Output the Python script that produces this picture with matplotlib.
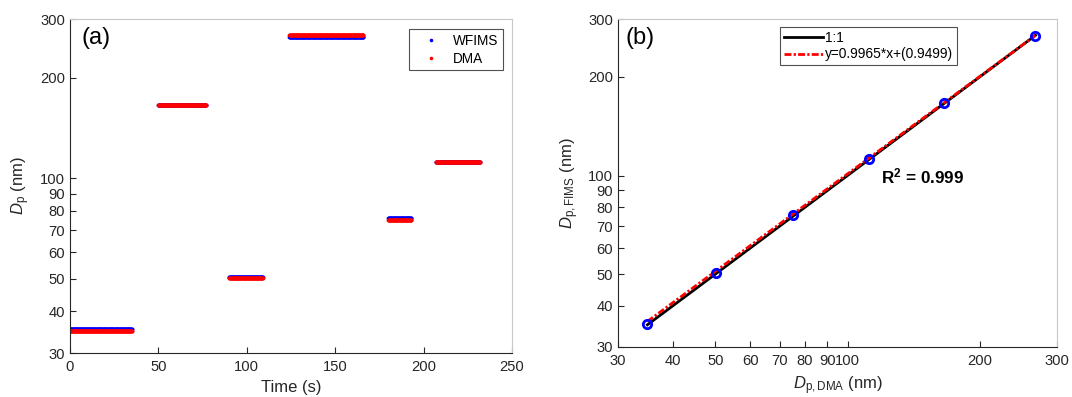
import numpy as np
import matplotlib
matplotlib.use("Agg")
import matplotlib.pyplot as plt
from matplotlib.ticker import FixedLocator, FixedFormatter, NullLocator

plt.rcParams["font.family"] = ["Liberation Sans", "DejaVu Sans"]
plt.rcParams["mathtext.fontset"] = "custom"
plt.rcParams["mathtext.rm"] = "Liberation Sans"
plt.rcParams["mathtext.it"] = "Liberation Sans:italic"
plt.rcParams["mathtext.bf"] = "Liberation Sans:bold"

# ---- data: panel (a), steps of constant size vs time
seg_start = [0, 50, 90, 124, 180, 207]
seg_end = [35, 77, 109, 166, 193, 232]
wfims_level = [35.3, 166.0, 50.6, 265.5, 76.0, 112.3]
dma_level = [35.0, 166.0, 50.2, 268.0, 75.2, 111.8]

# ---- data: panel (b), mean sizes per step
dma_mean = [35.0, 50.2, 75.0, 112.0, 166.0, 268.0]
fims_mean = [35.3, 50.5, 75.8, 112.5, 166.0, 267.5]
fit_slope = 0.9965
fit_icpt = 0.9499
r2 = 0.999

ticks = [30, 40, 50, 60, 70, 80, 90, 100, 200, 300]
tick_labels = ["30", "40", "50", "60", "70", "80", "90", "100", "200", "300"]

dark = "#262626"
light = "#c8c8c8"

fig = plt.figure(figsize=(10.72, 3.97), dpi=100)
ax1 = fig.add_axes([0.0653, 0.1108, 0.4123, 0.8413])
ax2 = fig.add_axes([0.5765, 0.1267, 0.4095, 0.8247])


def style(ax):
    ax.tick_params(direction="in", length=4, width=0.8, colors=dark,
                   labelsize=10.6, which="both", top=False, right=False)
    ax.tick_params(axis="x", pad=5)
    for s in ["left", "bottom"]:
        ax.spines[s].set_color(dark)
        ax.spines[s].set_linewidth(0.8)
    for s in ["top", "right"]:
        ax.spines[s].set_color(light)
        ax.spines[s].set_linewidth(0.8)


# ==========================
# (a)
# ==========================
for i in range(len(seg_start)):
    t = np.arange(seg_start[i], seg_end[i] + 0.01, 0.2)
    ax1.plot(t, np.full(t.size, wfims_level[i]), ".", color="#0000ff",
             markersize=3.5, label="WFIMS" if i == 0 else None)
for i in range(len(seg_start)):
    t = np.arange(seg_start[i], seg_end[i] + 0.01, 0.2)
    ax1.plot(t, np.full(t.size, dma_level[i]), ".", color="#ff0000",
             markersize=3.5, label="DMA" if i == 0 else None)

ax1.set_yscale("log")
ax1.set_xlim(0, 250)
ax1.set_ylim(30, 300)
ax1.yaxis.set_major_locator(FixedLocator(ticks))
ax1.yaxis.set_major_formatter(FixedFormatter(tick_labels))
ax1.yaxis.set_minor_locator(NullLocator())
ax1.set_xticks([0, 50, 100, 150, 200, 250])
style(ax1)
ax1.set_xlabel("Time (s)", fontsize=12, color=dark, labelpad=4)
ax1.set_ylabel(r"$D_\mathrm{p}$ (nm)", fontsize=12, color=dark, labelpad=6)
ax1.text(0.025, 0.975, "(a)", transform=ax1.transAxes, fontsize=17,
         va="top", ha="left", color="black")
leg1 = ax1.legend(loc="upper right", bbox_to_anchor=(0.979, 0.970),
                  borderaxespad=0, fontsize=9.8, frameon=True, fancybox=False,
                  handlelength=2.5, handletextpad=0.38, borderpad=0.33,
                  labelspacing=0.3, markerscale=0.9)
leg1.get_frame().set_edgecolor(dark)
leg1.get_frame().set_linewidth(0.8)

# ==========================
# (b)
# ==========================
xl = np.array([dma_mean[0], dma_mean[-1]])
ax2.plot(xl, xl, "-", color="black", linewidth=2, label="1:1")
ax2.plot(xl, fit_slope * xl + fit_icpt, color="#ff0000", linewidth=2,
         dashes=(2.5, 0.8, 0.8, 0.8),
         label="y=%.4f*x+(%.4f)" % (fit_slope, fit_icpt))
ax2.plot(dma_mean, fims_mean, "o", markerfacecolor="none",
         markeredgecolor="#0000ff", markeredgewidth=2, markersize=6)

ax2.set_xscale("log")
ax2.set_yscale("log")
ax2.set_xlim(30, 300)
ax2.set_ylim(30, 300)
for axis in [ax2.xaxis, ax2.yaxis]:
    axis.set_major_locator(FixedLocator(ticks))
    axis.set_major_formatter(FixedFormatter(tick_labels))
    axis.set_minor_locator(NullLocator())
style(ax2)
ax2.set_xlabel(r"$D_\mathrm{p,DMA}$ (nm)", fontsize=12, color=dark, labelpad=5)
ax2.set_ylabel(r"$D_\mathrm{p,FIMS}$ (nm)", fontsize=12, color=dark, labelpad=5)
ax2.text(0.016, 0.975, "(b)", transform=ax2.transAxes, fontsize=17,
         va="top", ha="left", color="black")
ax2.text(119, 99, r"$\mathbf{R^2}$" + " = %.3f" % r2, fontsize=12.3,
         fontweight="bold", va="center", ha="left", color="black")
leg2 = ax2.legend(loc="upper left", bbox_to_anchor=(0.369, 0.976),
                  borderaxespad=0, fontsize=9.9, frameon=True, fancybox=False,
                  handlelength=2.9, handletextpad=0.12, borderpad=0.26,
                  labelspacing=0.2)
leg2.get_frame().set_edgecolor(dark)
leg2.get_frame().set_linewidth(0.8)

plt.savefig("out.png", dpi=100)
plt.close()
